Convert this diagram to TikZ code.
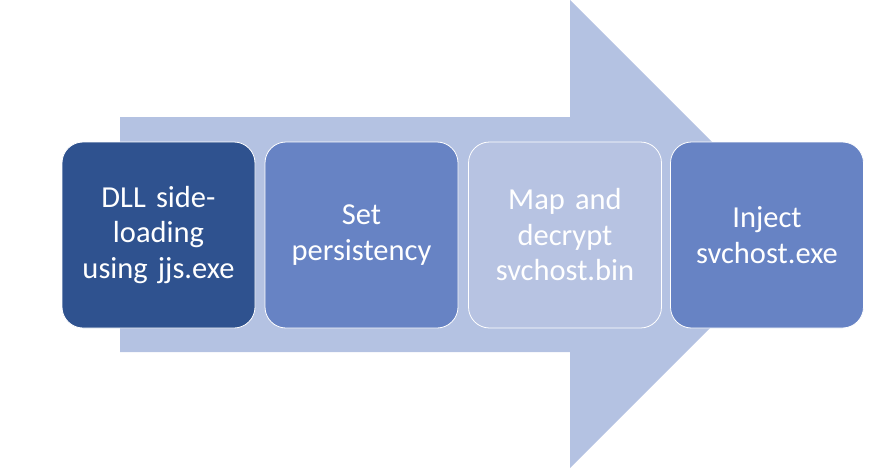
\documentclass[tikz,border=0pt]{standalone}
\usepackage{fontspec}
\setmainfont{Carlito}[WordSpace={0.55,0,0}]
\definecolor{arrowc}{HTML}{B4C2E2}
\definecolor{darkc}{HTML}{2F528F}
\definecolor{midc}{HTML}{6783C4}
\definecolor{lightc}{HTML}{B7C3E2}
\begin{document}
\begin{tikzpicture}[x=1pt,y=-1pt,
  stepbox/.style={draw=white,line width=0.8pt,rounded corners=21pt,minimum width=193pt,minimum height=186pt,
    text=white,align=center,font=\fontsize{30.5}{35.5}\selectfont,inner sep=0pt,text width=185pt}]
\useasboundingbox (0,0) rectangle (889,471);
\fill[arrowc] (120,117) -- (570,117) -- (570,0) -- (804,234) -- (570,468) -- (570,352) -- (120,352) -- cycle;
\node[stepbox,fill=darkc] (s1) at (158.5,235) {DLL side-\\loading\\using jjs.exe};
\node[stepbox,fill=midc] (s2) at (361.5,235) {Set\\persistency};
\node[stepbox,fill=lightc] (s3) at (565,235) {Map and\\decrypt\\svchost.bin};
\node[stepbox,fill=midc] (s4) at (767,235) {Inject\\svchost.exe};
\end{tikzpicture}
\end{document}
